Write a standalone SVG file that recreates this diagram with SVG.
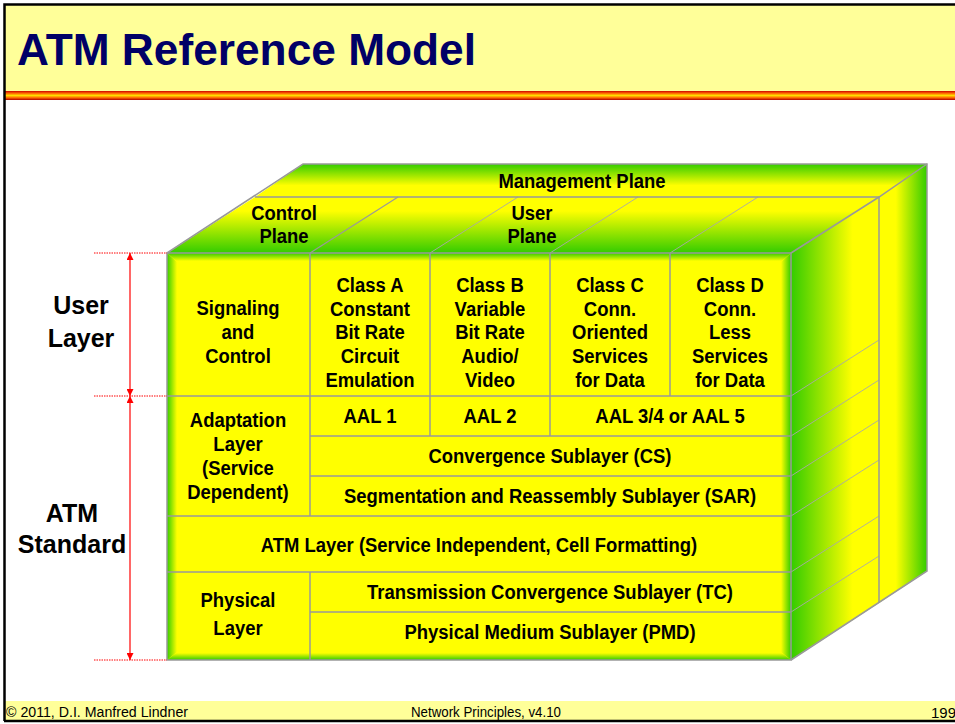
<svg xmlns="http://www.w3.org/2000/svg" width="955" height="724" viewBox="0 0 955 724">
<defs>
<style>
.t{font-family:"Liberation Sans",Arial,sans-serif;font-weight:bold;font-size:20.5px;fill:#000;text-anchor:middle}
.lbl{font-family:"Liberation Sans",Arial,sans-serif;font-weight:bold;font-size:25px;fill:#000;text-anchor:middle}
.ft{font-family:"Liberation Sans",Arial,sans-serif;font-size:14px;fill:#000}
.g{stroke:#999;stroke-width:1.5;fill:none}
.gt{stroke:#a8a8a8;stroke-width:0.9;fill:none}
.dim{stroke:#f00;stroke-width:1.2;fill:none}
.dot{stroke:#f00;stroke-width:1;stroke-dasharray:1.5 1;fill:none}
</style>
<linearGradient id="stripe" x1="0" y1="0" x2="0" y2="1">
<stop offset="0" stop-color="#cc0000"/><stop offset="0.25" stop-color="#ff6600"/><stop offset="0.5" stop-color="#ffdd00"/><stop offset="0.75" stop-color="#ff6600"/><stop offset="1" stop-color="#aa0000"/>
</linearGradient>
<linearGradient id="mgmt" x1="0" y1="0" x2="0" y2="1"><stop offset="0" stop-color="#33cc00"/><stop offset="0.65" stop-color="#ffff00"/><stop offset="1" stop-color="#ffff00"/></linearGradient>
<linearGradient id="cup" x1="0" y1="0" x2="0" y2="1"><stop offset="0" stop-color="#ffff00"/><stop offset="0.25" stop-color="#ffff00"/><stop offset="1" stop-color="#33cc00"/></linearGradient>
<linearGradient id="rf1" gradientUnits="userSpaceOnUse" x1="791" y1="0" x2="879" y2="0"><stop offset="0" stop-color="#33cc00"/><stop offset="0.7" stop-color="#ffff00"/><stop offset="1" stop-color="#ffff00"/></linearGradient>
<linearGradient id="rf2" gradientUnits="userSpaceOnUse" x1="879" y1="0" x2="927" y2="0"><stop offset="0" stop-color="#ffff00"/><stop offset="0.35" stop-color="#ffff00"/><stop offset="1" stop-color="#33cc00"/></linearGradient>
<linearGradient id="bl" x1="0" y1="0" x2="1" y2="0"><stop offset="0" stop-color="#33cc00"/><stop offset="1" stop-color="#ffff00"/></linearGradient>
<linearGradient id="br" x1="1" y1="0" x2="0" y2="0"><stop offset="0" stop-color="#33cc00"/><stop offset="1" stop-color="#ffff00"/></linearGradient>
<linearGradient id="bt" x1="0" y1="0" x2="0" y2="1"><stop offset="0" stop-color="#33cc00"/><stop offset="1" stop-color="#ffff00"/></linearGradient>
<linearGradient id="bb" x1="0" y1="1" x2="0" y2="0"><stop offset="0" stop-color="#33cc00"/><stop offset="1" stop-color="#ffff00"/></linearGradient>
<marker id="ah" viewBox="0 0 10 10" refX="10" refY="5" markerWidth="7" markerHeight="7" markerUnits="userSpaceOnUse" orient="auto-start-reverse"><path d="M0,0 L10,5 L0,10 z" fill="#f00"/></marker>
</defs>

<rect x="0" y="0" width="955" height="724" fill="#fff"/>
<!-- header -->
<rect x="5" y="5" width="950" height="87" fill="#ffff99"/>
<rect x="5" y="91" width="950" height="9" fill="url(#stripe)"/>
<text x="17" y="65" style="font-family:'Liberation Sans',Arial,sans-serif;font-weight:bold;font-size:44px;fill:#000066" textLength="459" lengthAdjust="spacingAndGlyphs">ATM Reference Model</text>
<!-- footer -->
<rect x="5" y="701" width="950" height="19" fill="#ffff99"/>
<text class="ft" x="6" y="717" textLength="182" lengthAdjust="spacingAndGlyphs">© 2011, D.I. Manfred Lindner</text>
<text class="ft" x="411" y="717" textLength="150" lengthAdjust="spacingAndGlyphs">Network Principles, v4.10</text>
<text class="ft" x="931" y="718" style="font-size:15px">199</text>
<!-- frame -->
<path d="M4.5,721 L4.5,4.5 L955,4.5" stroke="#000" stroke-width="2.5" fill="none"/>
<line x1="4" y1="721" x2="955" y2="721" stroke="#000" stroke-width="2.5"/>

<!-- 3D box faces -->
<g id="top-face">
<polygon points="303,164 927,164 879,197 255,197" fill="url(#mgmt)"/>
<polygon points="255,197 879,197 791,253 167,253" fill="url(#cup)"/>
</g>
<g id="right-face">
<polygon points="791,253 879,197 879,603 791,660" fill="url(#rf1)"/>
<polygon points="879,197 927,164 927,571 879,603" fill="url(#rf2)"/>
</g>
<g id="front-face">
<rect x="167" y="253" width="624" height="407" fill="#ffff00"/>
<polygon points="167,253 177,262 177,652 167,660" fill="url(#bl)"/>
<polygon points="791,253 781,262 781,652 791,660" fill="url(#br)"/>
<polygon points="167,253 791,253 782,261 176,261" fill="url(#bt)"/>
<polygon points="167,660 791,660 782,653 176,653" fill="url(#bb)"/>
</g>

<!-- box lines -->
<g id="box-lines">
<line class="gt" x1="430" y1="253" x2="518" y2="197"/>
<line class="gt" x1="550" y1="253" x2="638" y2="197"/>
<line class="gt" x1="670" y1="253" x2="758" y2="197"/>
<line class="g" x1="310" y1="253" x2="398" y2="197" style="stroke-width:1.2"/>
<line class="gt" x1="791" y1="396" x2="879" y2="340"/>
<line class="gt" x1="791" y1="436" x2="879" y2="380"/>
<line class="gt" x1="791" y1="476" x2="879" y2="420"/>
<line class="gt" x1="791" y1="516" x2="879" y2="460"/>
<line class="gt" x1="791" y1="572" x2="879" y2="516"/>
<line class="gt" x1="791" y1="612" x2="879" y2="556"/>
<polyline class="g" points="167,253 303,164 927,164 927,571 791,660"/>
<polyline class="g" points="791,253 879,197 927,164"/>
<line class="g" x1="255" y1="197" x2="879" y2="197"/>
<line class="g" x1="879" y1="197" x2="879" y2="603"/>
<rect class="g" x="167" y="253" width="624" height="407"/>
<line class="g" x1="167" y1="396" x2="791" y2="396"/>
<line class="g" x1="310" y1="436" x2="791" y2="436"/>
<line class="g" x1="310" y1="476" x2="791" y2="476"/>
<line class="g" x1="167" y1="516" x2="791" y2="516"/>
<line class="g" x1="167" y1="572" x2="791" y2="572"/>
<line class="g" x1="310" y1="612" x2="791" y2="612"/>
<line class="g" x1="310" y1="253" x2="310" y2="516"/>
<line class="g" x1="310" y1="572" x2="310" y2="660"/>
<line class="g" x1="430" y1="253" x2="430" y2="436"/>
<line class="g" x1="550" y1="253" x2="550" y2="436"/>
<line class="g" x1="670" y1="253" x2="670" y2="396"/>
</g>

<!-- plane labels (text squeezed horizontally: x values are divided by 0.9) -->
<g id="management-plane" transform="scale(0.9 1)"><text class="t" x="646.67" y="188">Management Plane</text></g>
<g id="control-plane" transform="scale(0.9 1)"><text class="t" x="315.56" y="220">Control</text><text class="t" x="315.56" y="243">Plane</text></g>
<g id="user-plane" transform="scale(0.9 1)"><text class="t" x="591.11" y="220">User</text><text class="t" x="591.11" y="243">Plane</text></g>

<!-- cells -->
<g id="signaling" transform="scale(0.9 1)"><text class="t" x="264.44" y="315">Signaling</text><text class="t" x="264.44" y="339">and</text><text class="t" x="264.44" y="363">Control</text></g>
<g id="class-a" transform="scale(0.9 1)"><text class="t" x="411.11" y="292">Class A</text><text class="t" x="411.11" y="316">Constant</text><text class="t" x="411.11" y="339">Bit Rate</text><text class="t" x="411.11" y="363">Circuit</text><text class="t" x="411.11" y="387">Emulation</text></g>
<g id="class-b" transform="scale(0.9 1)"><text class="t" x="544.44" y="292">Class B</text><text class="t" x="544.44" y="316">Variable</text><text class="t" x="544.44" y="339">Bit Rate</text><text class="t" x="544.44" y="363">Audio/</text><text class="t" x="544.44" y="387">Video</text></g>
<g id="class-c" transform="scale(0.9 1)"><text class="t" x="677.78" y="292">Class C</text><text class="t" x="677.78" y="316">Conn.</text><text class="t" x="677.78" y="339">Oriented</text><text class="t" x="677.78" y="363">Services</text><text class="t" x="677.78" y="387">for Data</text></g>
<g id="class-d" transform="scale(0.9 1)"><text class="t" x="811.11" y="292">Class D</text><text class="t" x="811.11" y="316">Conn.</text><text class="t" x="811.11" y="339">Less</text><text class="t" x="811.11" y="363">Services</text><text class="t" x="811.11" y="387">for Data</text></g>
<g id="adaptation" transform="scale(0.9 1)"><text class="t" x="264.44" y="427">Adaptation</text><text class="t" x="264.44" y="451">Layer</text><text class="t" x="264.44" y="475">(Service</text><text class="t" x="264.44" y="499">Dependent)</text></g>
<g id="aal1" transform="scale(0.9 1)"><text class="t" x="411.11" y="423">AAL 1</text></g>
<g id="aal2" transform="scale(0.9 1)"><text class="t" x="544.44" y="423">AAL 2</text></g>
<g id="aal345" transform="scale(0.9 1)"><text class="t" x="744.44" y="423">AAL 3/4 or AAL 5</text></g>
<g id="cs" transform="scale(0.9 1)"><text class="t" x="611.11" y="463">Convergence Sublayer (CS)</text></g>
<g id="sar" transform="scale(0.9 1)"><text class="t" x="611.11" y="503">Segmentation and Reassembly Sublayer (SAR)</text></g>
<g id="atm-layer" transform="scale(0.9 1)"><text class="t" x="532.22" y="552">ATM Layer (Service Independent, Cell Formatting)</text></g>
<g id="physical" transform="scale(0.9 1)"><text class="t" x="264.44" y="607">Physical</text><text class="t" x="264.44" y="635">Layer</text></g>
<g id="tc" transform="scale(0.9 1)"><text class="t" x="611.11" y="599">Transmission Convergence Sublayer (TC)</text></g>
<g id="pmd" transform="scale(0.9 1)"><text class="t" x="611.11" y="639">Physical Medium Sublayer (PMD)</text></g>

<!-- side labels -->
<g id="user-layer"><text class="lbl" x="81" y="314">User</text><text class="lbl" x="81" y="347">Layer</text></g>
<g id="atm-standard"><text class="lbl" x="72" y="522">ATM</text><text class="lbl" x="72" y="553">Standard</text></g>

<g id="connectors">
<line class="dot" x1="94" y1="253" x2="167" y2="253"/>
<line class="dot" x1="94" y1="396" x2="167" y2="396"/>
<line class="dot" x1="94" y1="660" x2="167" y2="660"/>
<line class="dim" x1="130" y1="253" x2="130" y2="396" marker-start="url(#ah)" marker-end="url(#ah)"/>
<line class="dim" x1="130" y1="396" x2="130" y2="660" marker-start="url(#ah)" marker-end="url(#ah)"/>
</g>
</svg>
